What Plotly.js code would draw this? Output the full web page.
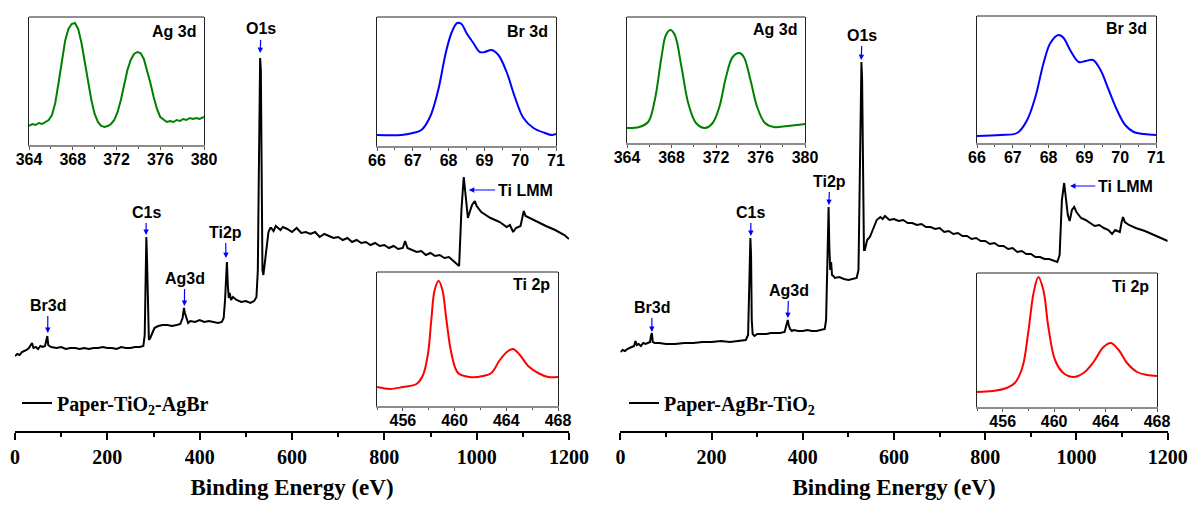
<!DOCTYPE html>
<html>
<head>
<meta charset="utf-8">
<script src="https://cdn.plot.ly/plotly-3.0.1.min.js"></script>
<style>html,body{margin:0;padding:0;background:#fff;}#chart{width:1189px;height:506px;}</style>
</head>
<body>
<div id="chart"></div>
<script>
// ---------- Survey spectrum: Paper-TiO2-AgBr (binding energy eV, intensity a.u.) ----------
const leftBE = [0,5,10,15,20,25,30,37,40,45,50,55,60,65,68,70,72,78,90,100,110,120,130,140,150,160,170,180,190,200,210,220,230,240,250,260,270,278,281,283,284.5,286,288,290,293,297,302,310,320,330,340,350,358,363,366,368,371,375,380,390,400,410,420,430,440,448,452,455,457,459,461,463,465,468,472,480,490,500,510,518,523,526,528,529.5,531,532.5,534,536,538,541,545,549,553,555,560,565,570,575,580,590,600,610,620,630,640,650,660,670,680,690,700,710,720,730,740,750,760,770,780,790,800,810,820,830,840,845,850,860,870,880,890,900,910,920,930,940,950,958,962,967,972,976,981,985,990,996,1000,1010,1020,1030,1040,1050,1065,1072,1079,1085,1095,1099,1102,1106,1115,1130,1150,1170,1190,1200];
const leftI  = [75,77,76,79,80,81,83,88,83,84,82,85,84,85,91,95,86,84,83,84,82,83,83,82,83,82,83,83,84,83,83,82,84,83,83,84,84,85,96,141,194,171,111,91,93,98,103,105,106,106,105,106,107,113,123,118,113,108,110,109,111,109,110,109,108,109,113,131,151,169,146,133,138,131,134,131,129,130,128,130,134,161,251,331,373,361,231,161,156,169,186,199,203,203,200,205,203,201,204,202,199,203,198,199,197,199,194,197,195,193,194,191,193,189,191,188,189,186,188,185,186,183,185,182,183,190,183,181,179,180,176,178,175,176,173,174,170,167,165,221,254,236,213,219,226,230,225,219,216,213,211,209,204,206,199,203,205,216,220,215,213,209,205,201,196,192];

// ---------- Survey spectrum: Paper-AgBr-TiO2 ----------
const rightBE = [0,5,10,15,20,25,30,33,36,40,45,50,55,60,65,67,69,71,75,85,100,120,140,160,180,200,220,240,260,275,280,283,285,286.5,288,290,294,300,310,320,330,340,350,360,364,367,369,372,376,380,390,400,410,420,430,440,448,451,453,455,456.5,458,460,462,464,467,470,480,490,500,510,518,522,525,527,528.5,530,532,534,536,541,547,555,562,570,575,580,590,600,610,620,630,640,650,660,670,680,690,700,710,720,730,740,750,760,770,780,790,800,810,820,830,840,850,860,870,880,890,900,910,920,930,940,950,958,963,968,973,977,981,985,990,995,1000,1010,1020,1030,1040,1050,1060,1070,1078,1085,1095,1099,1102,1106,1115,1130,1150,1170,1185,1200];
const rightI  = [79,81,80,82,83,84,85,90,86,87,85,88,87,88,89,95,98,89,88,88,87,87,88,88,89,89,90,89,90,91,96,141,193,176,111,97,95,97,97,97,98,98,98,99,105,111,106,102,100,101,100,100,101,100,100,101,102,111,161,200,224,186,161,169,156,155,153,154,152,151,152,153,161,251,331,369,351,231,181,181,191,194,203,211,214,212,215,211,212,210,211,208,208,206,207,204,204,202,203,199,200,197,198,195,195,192,193,190,190,187,188,185,185,182,183,179,180,177,177,174,174,172,172,170,169,176,231,248,231,216,210,221,224,219,213,211,208,205,206,203,201,197,201,199,209,214,209,206,203,200,196,193,190];

// ---------- High-resolution insets ----------
const agBE_L = [364.0,364.3,364.6,364.9,365.2,365.5,365.8,366.1,366.4,366.7,367.0,367.3,367.6,367.9,368.2,368.5,368.8,369.1,369.4,369.7,370.0,370.3,370.6,370.9,371.2,371.5,371.8,372.1,372.4,372.7,373.0,373.3,373.6,373.9,374.2,374.5,374.8,375.1,375.4,375.7,376.0,376.3,376.6,376.9,377.2,377.5,377.8,378.1,378.4,378.7,379.0,379.3,379.6,380.0];
const agI_L  = [19,21,20,22,21,23,25,30,42,62,85,104,116,121,122,116,102,82,62,45,31,23,19,18,19,21,25,33,45,60,75,85,91,93,92,86,75,62,48,36,28,25,23,24,23,25,24,26,25,27,26,27,26,28];
const brBE_L = [66.0,66.68,67.0,67.24,67.48,67.71,67.92,68.08,68.24,68.36,68.5,68.69,68.87,69.01,69.2,69.39,69.62,69.85,70.09,70.37,70.69,70.88,71.0];
const brI_L  = [11,11,13,16,29,56,93,113,123,122,113,103,94,94,96,91,74,49,28,18,13,11,12];
const tiBE_L = [454,455,456,457.05,457.56,457.95,458.2,458.46,458.77,459.06,459.37,459.75,460.27,461.17,462.2,462.85,463.5,464.14,464.53,465.05,465.69,466.46,467.24,468];
const tiI_L  = [19,17,19,22,31,53,86,116,125,116,86,53,33,29,30,33,46,55,57,51,40,33,29,29];

const agBE_R = [364,365.1,365.9,366.5,367.1,367.5,367.9,368.3,368.9,369.5,370.2,371,371.7,372.3,372.9,373.5,374.1,374.5,375.1,375.7,376.4,377.2,378.4,380];
const agI_R  = [15,16,21,43,86,108,113,108,76,40,20,15,20,36,66,86,90,86,63,36,20,16,17,19];
const brBE_R = [66,66.65,67.12,67.4,67.63,67.86,68.05,68.28,68.42,68.6,68.84,69.03,69.24,69.45,69.68,69.91,70.14,70.38,70.66,71];
const brI_R  = [7,8,10,23,46,80,100,108,105,93,81,82,83,73,53,33,18,11,9,8];
const tiBE_R = [454,455.25,456.3,456.94,457.54,457.98,458.4,458.77,459.16,459.55,460.07,460.72,461.5,462.28,463.06,463.84,464.42,465.02,465.67,466.45,467.22,468];
const tiI_R  = [15,16,19,24,40,74,114,130,117,80,47,34,30,34,45,60,64,57,44,35,32,31];

// peak labels with arrows: [text, labelBE, labelI, arrowHeadBE, arrowHeadI]
const peaksL = [["Br3d",71,126,71,98],["C1s",284,219,284,196],["Ag3d",367.5,153,367,125],["Ti2p",456,199,457,173],["O1s",533,402,531,378],["Ti LMM",1105,241,983,241]];
const peaksR = [["Br3d",69,124,69,99],["C1s",286,219,286,195],["Ag3d",369,141,367,113],["Ti2p",459,250,457,226],["O1s",530,396,528,371],["Ti LMM",1107,245,986,245]];

const W = 1189, H = 506;
const serif = {family:'Liberation Serif, Times New Roman, serif', size:20, weight:'bold', color:'black'};
const sans16 = {family:'Liberation Sans, Arial, sans-serif', size:16, weight:'bold', color:'black'};

function mainX(dom){
  return {domain:dom, range:[0,1200], showline:true, linecolor:'black', linewidth:2, ticks:'outside', ticklen:7, tickwidth:2, tickcolor:'black',
    tick0:0, dtick:200, minor:{dtick:100, ticks:'outside', ticklen:4, tickwidth:2, tickcolor:'black', showgrid:false},
    showgrid:false, zeroline:false, tickfont:serif, automargin:false,
    title:{text:'Binding Energy (eV)', font:{family:serif.family, size:23, weight:'bold', color:'black'}, standoff:12}};
}
function mainY(anchor){ return {domain:[1-431/H, 1-20/H], range:[0,411], visible:false, anchor:anchor}; }
function insetX(dom, rng, tickvals, minorDt, anchor){
  return {domain:dom, range:rng, anchor:anchor, showline:true, linecolor:'#8c8c8c', linewidth:2, ticks:'outside', ticklen:3, tickwidth:1, tickcolor:'#555',
    tickvals:tickvals, minor:{dtick:minorDt, tick0:rng[0], ticks:'outside', ticklen:2, tickwidth:1, tickcolor:'#555', showgrid:false},
    showgrid:false, zeroline:false, tickfont:sans16, automargin:false, ticklabelstandoff:-4};
}
function insetY(dom, top, anchor){
  return {domain:dom, range:[0,top], anchor:anchor, showline:true, mirror:true, linecolor:'#222', linewidth:1, ticks:'', showticklabels:false, showgrid:false, zeroline:false};
}
const px = v => v/W, py = v => 1 - v/H;

const data = [
  {x:leftBE, y:leftI, xaxis:'x', yaxis:'y', type:'scatter', mode:'lines', line:{color:'black', width:2}, name:'Paper-TiO<sub>2</sub>-AgBr', legend:'legend'},
  {x:rightBE, y:rightI, xaxis:'x2', yaxis:'y2', type:'scatter', mode:'lines', line:{color:'black', width:2}, name:'Paper-AgBr-TiO<sub>2</sub>', legend:'legend2'},
  {x:agBE_L, y:agI_L, xaxis:'x3', yaxis:'y3', mode:'lines', line:{color:'#008000', width:2}, showlegend:false},
  {x:brBE_L, y:brI_L, xaxis:'x4', yaxis:'y4', mode:'lines', line:{color:'#0000ff', width:2, shape:'spline'}, showlegend:false},
  {x:tiBE_L, y:tiI_L, xaxis:'x5', yaxis:'y5', mode:'lines', line:{color:'#ff0000', width:2, shape:'spline'}, showlegend:false},
  {x:agBE_R, y:agI_R, xaxis:'x6', yaxis:'y6', mode:'lines', line:{color:'#008000', width:2, shape:'spline'}, showlegend:false},
  {x:brBE_R, y:brI_R, xaxis:'x7', yaxis:'y7', mode:'lines', line:{color:'#0000ff', width:2, shape:'spline'}, showlegend:false},
  {x:tiBE_R, y:tiI_R, xaxis:'x8', yaxis:'y8', mode:'lines', line:{color:'#ff0000', width:2, shape:'spline'}, showlegend:false}
];

const annotations = [];
function addPeaks(list, xr, yr){
  list.forEach(p => {
    annotations.push({text:p[0], ax:p[1], ay:p[2], x:p[3], y:p[4], xref:xr, yref:yr, axref:xr, ayref:yr, showarrow:true,
      arrowhead:2, arrowsize:0.9, arrowwidth:1.2, arrowcolor:'#0000ff', standoff:0, startstandoff:1, font:sans16});
  });
}
addPeaks(peaksL,'x','y');
addPeaks(peaksR,'x2','y2');
// inset titles
[['Ag 3d',3,0.966,0.89],['Br 3d',4,0.966,0.884],['Ti 2p',5,0.967,0.903],['Ag 3d',6,0.966,0.897],['Br 3d',7,0.961,0.898],['Ti 2p',8,0.967,0.896]].forEach(t=>{
  annotations.push({text:t[0], xref:'x'+t[1]+' domain', yref:'y'+t[1]+' domain', x:t[2], y:t[3], xanchor:'right', yanchor:'middle', showarrow:false, font:sans16});
});

const shapes = [3,4,5,6,7,8].map(i => ({type:'line', xref:'x'+i+' domain', yref:'y'+i+' domain', x0:0, x1:1, y0:1, y1:1, line:{color:'#222', width:1}}));

const layout = {
  width:W, height:H, margin:{l:0,r:0,t:0,b:0}, paper_bgcolor:'white', plot_bgcolor:'white',
  xaxis: mainX([px(15), px(569)]), yaxis: mainY('x'),
  xaxis2: Object.assign(mainX([px(620.4), px(1167.7)]), {anchor:'y2'}), yaxis2: mainY('x2'),
  xaxis3: insetX([px(29),px(204)],[364,380],[364,368,372,376,380],2,'y3'), yaxis3: insetY([py(145),py(17)],128,'x3'),
  xaxis4: insetX([px(377),px(556)],[66,71],[66,67,68,69,70,71],0.5,'y4'), yaxis4: insetY([py(146),py(17)],129,'x4'),
  xaxis5: insetX([px(377),px(558)],[454,468],[456,460,464,468],2,'y5'), yaxis5: insetY([py(406),py(272)],134,'x5'),
  xaxis6: insetX([px(627),px(805)],[364,380],[364,368,372,376,380],2,'y6'), yaxis6: insetY([py(143),py(17)],126,'x6'),
  xaxis7: insetX([px(977),px(1156)],[66,71],[66,67,68,69,70,71],0.5,'y7'), yaxis7: insetY([py(143),py(16)],127,'x7'),
  xaxis8: insetX([px(977),px(1157)],[454,468],[456,460,464,468],2,'y8'), yaxis8: insetY([py(407),py(273)],134,'x8'),
  legend: {x:px(17), y:py(403), xanchor:'left', yanchor:'middle', font:serif, bgcolor:'rgba(0,0,0,0)', borderwidth:0},
  legend2: {x:px(624), y:py(403), xanchor:'left', yanchor:'middle', font:serif, bgcolor:'rgba(0,0,0,0)', borderwidth:0},
  annotations: annotations, shapes: shapes, showlegend:true
};
layout.xaxis.anchor = 'y';
Plotly.newPlot('chart', data, layout, {staticPlot:true, displayModeBar:false});
</script>
</body>
</html>
